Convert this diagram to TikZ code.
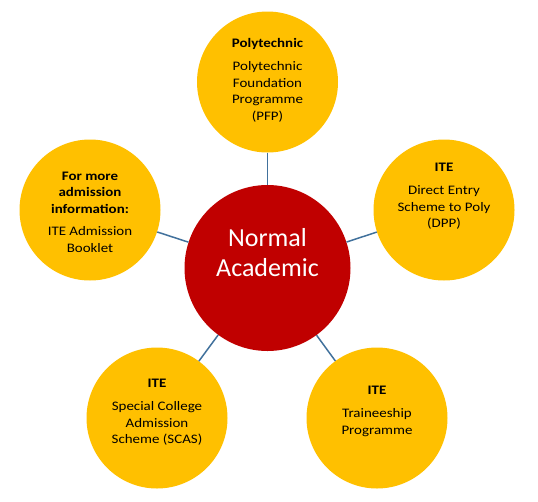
\documentclass[tikz,border=0pt]{standalone}
\usepackage{fontspec}
\setmainfont{Carlito}
\newfontfamily\widefont[FakeStretch=1.15]{Carlito}
\definecolor{gold}{HTML}{FFC000}
\definecolor{darkred}{HTML}{C00000}
\definecolor{linkblue}{HTML}{41719C}
\begin{document}
\begin{tikzpicture}[x=1pt,y=-1pt,
  bigdisc/.style={circle,fill=darkred,minimum size=166pt,inner sep=0pt},
  disc/.style={circle,fill=gold,minimum size=141pt,inner sep=0pt},
  txt/.style={align=center,font=\widefont\fontsize{13}{16.5}\selectfont,text=black,inner sep=0pt},
  bigtxt/.style={align=center,font=\fontsize{26}{30}\selectfont,text=white,inner sep=0pt},
  link/.style={draw=linkblue,line width=1.5pt}]
\useasboundingbox (0,0) rectangle (538,501);
% circles
\node[bigdisc] (na) at (267.5,268) {};
\node[disc] (poly) at (267.5,82) {};
\node[disc] (dpp) at (444,210) {};
\node[disc] (info) at (90,210) {};
\node[disc] (scas) at (157,418) {};
\node[disc] (tp) at (377,418) {};
% connectors
\draw[link] (na) -- (poly);
\draw[link] (na) -- (dpp);
\draw[link] (na) -- (info);
\draw[link] (na) -- (scas);
\draw[link] (na) -- (tp);
% texts
\node[bigtxt] (natxt) at (267.5,253) {Normal\\Academic};
\node[txt] (polytxt) at (267.5,80) {\textbf{Polytechnic}\\[7pt]Polytechnic\\Foundation\\Programme\\(PFP)};
\node[txt] (dpptxt) at (444,196) {\textbf{ITE}\\[7pt]Direct Entry\\Scheme to Poly\\(DPP)};
\node[txt] (infotxt) at (90,212) {\textbf{For more}\\\textbf{admission}\\\textbf{information:}\\[6pt]ITE Admission\\Booklet};
\node[txt] (scastxt) at (157,412) {\textbf{ITE}\\[7pt]Special College\\Admission\\Scheme (SCAS)};
\node[txt] (tptxt) at (377,411) {\textbf{ITE}\\[7pt]Traineeship\\Programme};
\end{tikzpicture}
\end{document}
